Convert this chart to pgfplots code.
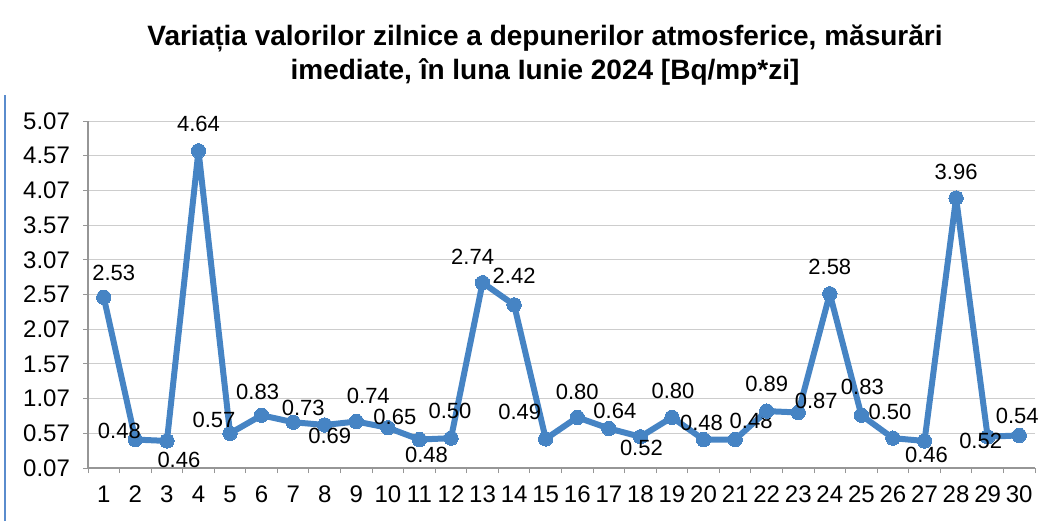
\documentclass[border=0pt]{standalone}
\usepackage{pgfplots}
\pgfplotsset{compat=1.18}
\usepackage{pgfplotstable}
\usepackage{fontspec}
\setmainfont{Liberation Sans}
\definecolor{lineblue}{RGB}{70,132,196}
\definecolor{gridgray}{RGB}{205,205,205}
\definecolor{axgray}{RGB}{150,150,150}
\definecolor{framblue}{RGB}{90,140,205}
\pgfplotstableread{
x y dx dy
1 2.53 5 12
2 0.48 -8 4.5
3 0.46 6 -9.5
4 4.64 0 13.5
5 0.57 -8 6.5
6 0.83 -2 11.5
7 0.73 5 7
8 0.69 2.5 -5.5
9 0.74 6 13
10 0.65 3.5 5.5
11 0.48 3.5 -7.5
12 0.50 -0.5 13.5
13 2.74 -5 13
14 2.42 0 14.5
15 0.49 -13 13.5
16 0.80 0 12.5
17 0.64 3 9
18 0.52 0.5 -5.5
19 0.80 0.5 13
20 0.48 -1 8.5
21 0.48 8 9.5
22 0.89 0 13.5
23 0.87 9 6
24 2.58 0 13.5
25 0.83 0.5 14
26 0.50 -1.5 13
27 0.46 1 -7
28 3.96 0 13
29 0.52 -3.5 -2
30 0.54 -1 9.5
}\datatable
\begin{document}
\begin{tikzpicture}
\path (0,0) rectangle (526.5pt,260.5pt);
\draw[framblue,line width=0.8pt] (2.5pt,0) -- (2.5pt,213pt);
\node[font=\fontsize{14}{16}\selectfont\bfseries,align=center] at (272.5pt,241.5pt) {Variația valorilor zilnice a depunerilor atmosferice, măsurări};
\node[font=\fontsize{14}{16}\selectfont\bfseries,align=center] at (272.5pt,224.5pt) {imediate, în luna Iunie 2024 [Bq/mp*zi]};
\begin{axis}[
  at={(44pt,26.5pt)}, anchor=south west,
  scale only axis, width=473.5pt, height=173.5pt,
  xmin=0.5, xmax=30.5, ymin=0.07, ymax=5.07,
  axis x line=bottom, axis y line=left,
  axis line style={-, axgray, line width=0.6pt},
  xtick={1,...,30},
  minor xtick={0.5,1.5,...,30.5},
  major x tick style={draw=none},
  minor x tick style={axgray, line width=0.5pt},
  minor tick length=2.5pt,
  ytick={0.07,0.57,1.07,1.57,2.07,2.57,3.07,3.57,4.07,4.57,5.07},
  ytick style={axgray, line width=0.5pt},
  major tick length=2.5pt,
  tick align=outside,
  ymajorgrids,
  grid style={gridgray, line width=0.5pt},
  /pgf/number format/assume math mode=true,
  yticklabel={\pgfmathprintnumber[fixed,fixed zerofill,precision=2]{\tick}},
  tick label style={font=\fontsize{12}{14}\selectfont},
  yticklabel style={xshift=-3pt},
  xticklabel style={yshift=-3pt},
  clip=false,
]
\addplot[lineblue, line width=3pt, line join=round, mark=*, mark size=3.6pt,
  mark options={fill=lineblue, draw=lineblue, line width=0pt},
  visualization depends on={\thisrow{dx}\as\dx},
  visualization depends on={\thisrow{dy}\as\dy},
  nodes near coords={\pgfmathprintnumber[fixed,fixed zerofill,precision=2]{\pgfplotspointmeta}},
  every node near coord/.append style={anchor=center, xshift=\dx pt, yshift=\dy pt, font=\fontsize{11}{13}\selectfont, text=black},
] table[x=x,y=y] {\datatable};
\end{axis}
\end{tikzpicture}
\end{document}
